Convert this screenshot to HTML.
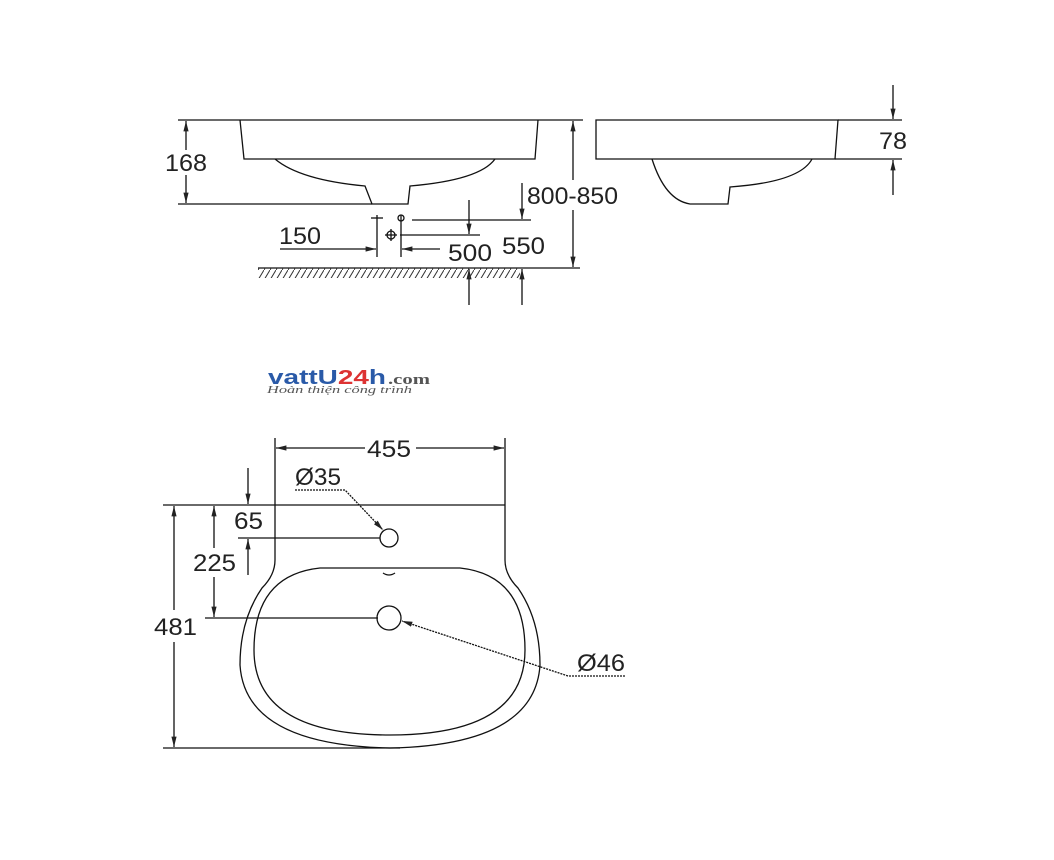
<!DOCTYPE html>
<html><head><style>body{margin:0;background:#fff}svg{display:block}text{font-family:"Liberation Sans",sans-serif;fill:#222}</style></head><body>
<svg width="1054" height="860" viewBox="0 0 1054 860" xmlns="http://www.w3.org/2000/svg">
<defs>
<marker id="a" viewBox="0 0 10 10" refX="10" refY="5" markerWidth="8" markerHeight="8" orient="auto-start-reverse"><path d="M0,2.5 L10,5 L0,7.5z" fill="#222"/></marker>
<pattern id="h" width="6" height="10" patternUnits="userSpaceOnUse"><path d="M6,0 L0,10" stroke="#333" stroke-width="1"/></pattern>
</defs>
<g stroke="#111" stroke-width="1.3" fill="none">
<line x1="178" y1="120" x2="583" y2="120"/>
<path d="M240,120 L244,159 L535,159 L538,120"/>
<path d="M275,159 Q300,180 365,186 L372,204 L408,204 L410,186 Q480,180 495,159"/>
<line x1="178" y1="204" x2="372" y2="204"/>
<line x1="186" y1="150" x2="186" y2="121" marker-end="url(#a)"/>
<line x1="186" y1="175" x2="186" y2="203" marker-end="url(#a)"/>
<line x1="573" y1="180" x2="573" y2="121" marker-end="url(#a)"/>
<line x1="573" y1="210" x2="573" y2="267" marker-end="url(#a)"/>
<line x1="412" y1="220" x2="531" y2="220"/>
<line x1="522" y1="183" x2="522" y2="219" marker-end="url(#a)"/>
<line x1="522" y1="305" x2="522" y2="269" marker-end="url(#a)"/>
<line x1="400" y1="235" x2="480" y2="235"/>
<line x1="469" y1="200" x2="469" y2="234" marker-end="url(#a)"/>
<line x1="469" y1="305" x2="469" y2="269" marker-end="url(#a)"/>
<line x1="280" y1="249" x2="376" y2="249" marker-end="url(#a)"/>
<line x1="440" y1="249" x2="402" y2="249" marker-end="url(#a)"/>
<line x1="377" y1="215" x2="377" y2="257"/>
<line x1="401" y1="215" x2="401" y2="257"/>
<line x1="371" y1="218" x2="383" y2="218"/><circle cx="401" cy="218" r="3"/>
<circle cx="391" cy="235" r="4"/><line x1="385" y1="235" x2="397" y2="235"/><line x1="391" y1="229" x2="391" y2="241"/>
<line x1="258" y1="268" x2="580" y2="268"/>
<rect x="258" y="268" width="262" height="10" fill="url(#h)" stroke="none"/>
<path d="M838,120 L596,120 L596,159 L835,159 Z"/>
<path d="M652,159 Q665,200 690,204 L728,204 L730,187 Q800,182 812,159"/>
<line x1="838" y1="120" x2="902" y2="120"/>
<line x1="835" y1="159" x2="902" y2="159"/>
<line x1="893" y1="85" x2="893" y2="119" marker-end="url(#a)"/>
<line x1="893" y1="195" x2="893" y2="160" marker-end="url(#a)"/>
<line x1="163" y1="505" x2="505" y2="505"/>
<line x1="275" y1="438" x2="275" y2="560"/>
<line x1="505" y1="438" x2="505" y2="560"/>
<line x1="276" y1="448" x2="365" y2="448" marker-start="url(#a)"/>
<line x1="416" y1="448" x2="504" y2="448" marker-end="url(#a)"/>
<path d="M275,560 Q275,575 262,588 Q240,620 240,665 Q245,745 390,748 Q535,745 540,665 Q540,620 518,588 Q505,575 505,560"/>
<path d="M320,568 L460,568 Q525,575 525,650 Q525,735 390,735 Q254,735 254,650 Q254,575 320,568 Z"/>
<circle cx="389" cy="538" r="9"/>
<circle cx="389" cy="618" r="12"/>
<path d="M383,573 Q389,577 395,573" />
<line x1="163" y1="748" x2="400" y2="748"/>
<line x1="174" y1="506" x2="174" y2="610" marker-start="url(#a)"/>
<line x1="174" y1="642" x2="174" y2="747" marker-end="url(#a)"/>
<line x1="205" y1="618" x2="378" y2="618"/>
<line x1="214" y1="506" x2="214" y2="548" marker-start="url(#a)"/>
<line x1="214" y1="577" x2="214" y2="617" marker-end="url(#a)"/>
<line x1="238" y1="538" x2="380" y2="538"/>
<line x1="248" y1="468" x2="248" y2="504" marker-end="url(#a)"/>
<line x1="248" y1="575" x2="248" y2="539" marker-end="url(#a)"/>
<path d="M295,490 L345,490 L383,530" stroke-dasharray="2,1" marker-end="url(#a)"/>
<path d="M625,676 L568,676 L402,621" stroke-dasharray="2,1" marker-end="url(#a)"/>
</g>
<g font-size="24" lengthAdjust="spacingAndGlyphs">
<text x="165" y="171" textLength="42" lengthAdjust="spacingAndGlyphs">168</text>
<text x="527" y="204" textLength="91" lengthAdjust="spacingAndGlyphs">800-850</text>
<text x="279" y="244" textLength="42" lengthAdjust="spacingAndGlyphs">150</text>
<text x="448" y="261" textLength="44" lengthAdjust="spacingAndGlyphs">500</text>
<text x="502" y="254" textLength="43" lengthAdjust="spacingAndGlyphs">550</text>
<text x="879" y="149" textLength="28" lengthAdjust="spacingAndGlyphs">78</text>
<text x="367" y="457" textLength="44" lengthAdjust="spacingAndGlyphs">455</text>
<text x="295" y="485" textLength="46" lengthAdjust="spacingAndGlyphs">Ø35</text>
<text x="234" y="529" textLength="29" lengthAdjust="spacingAndGlyphs">65</text>
<text x="193" y="571" textLength="43" lengthAdjust="spacingAndGlyphs">225</text>
<text x="154" y="635" textLength="43" lengthAdjust="spacingAndGlyphs">481</text>
<text x="577" y="671" textLength="48" lengthAdjust="spacingAndGlyphs">Ø46</text>
</g>
<text x="268" y="384" font-size="20" font-weight="bold" textLength="118" lengthAdjust="spacingAndGlyphs" style="fill:#2a5aa8;font-family:'Liberation Sans',sans-serif">vattU<tspan style="fill:#d33">24</tspan>h</text>
<text x="388" y="384" font-size="15" font-weight="bold" textLength="42" lengthAdjust="spacingAndGlyphs" style="fill:#555;font-family:'Liberation Serif',serif">.com</text>
<text x="267" y="393" font-size="10" font-style="italic" textLength="145" lengthAdjust="spacingAndGlyphs" style="fill:#555;font-family:'Liberation Serif',serif">Hoàn thiện công trình</text>
</svg>
</body></html>
